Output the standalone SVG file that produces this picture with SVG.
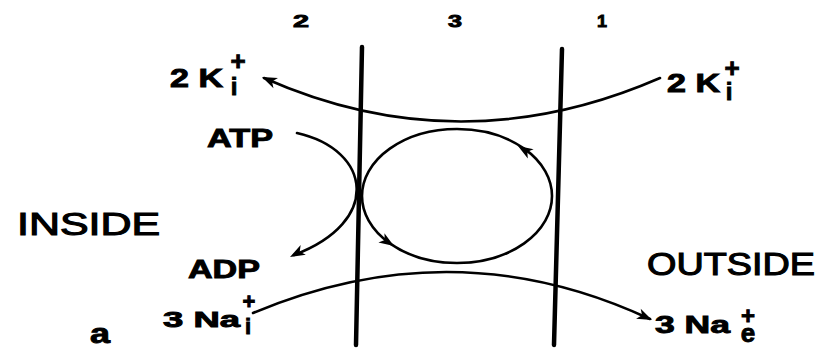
<svg xmlns="http://www.w3.org/2000/svg" xmlns:xlink="http://www.w3.org/1999/xlink" width="820" height="348" viewBox="0 0 820 348">
<style>
.t{font-family:"Liberation Sans",Arial,sans-serif;font-weight:bold;fill:#000;stroke:#000;stroke-width:0.9}
.h{font-family:"Liberation Sans",Arial,sans-serif;font-weight:normal;fill:#000;stroke:#000;stroke-width:1.1}
.m{stroke:#000;stroke-width:4.5;stroke-linecap:round;fill:none}
.c{stroke:#000;stroke-width:2.6;fill:none;stroke-linecap:round}
</style>
<defs>
<path id="ah" d="M0 0 L-15 -5.5 L-11 0 L-15 5.5 Z" fill="#000"/>
</defs>
<rect width="820" height="348" fill="#fff"/>

<g id="membrane-left"><line class="m" x1="362" y1="47" x2="356" y2="345"/></g>
<g id="membrane-right"><line class="m" x1="562" y1="49" x2="554" y2="345"/></g>

<g id="region-labels">
<text class="t" x="293" y="27" font-size="17" textLength="16" lengthAdjust="spacingAndGlyphs">2</text>
<text class="t" x="448" y="27" font-size="17" textLength="14" lengthAdjust="spacingAndGlyphs">3</text>
<text class="t" x="597" y="27" font-size="17" textLength="10" lengthAdjust="spacingAndGlyphs">1</text>
</g>

<g id="k-in">
<text class="t" x="170" y="87" font-size="25" textLength="53" lengthAdjust="spacingAndGlyphs">2 K</text>
<text class="t" x="238" y="70" font-size="26" text-anchor="middle">+</text>
<text class="t" x="234" y="95" font-size="24" text-anchor="middle">i</text>
</g>
<g id="k-out">
<text class="t" x="667" y="92" font-size="25" textLength="53" lengthAdjust="spacingAndGlyphs">2 K</text>
<text class="t" x="732" y="77" font-size="26" text-anchor="middle">+</text>
<text class="t" x="729" y="100" font-size="24" text-anchor="middle">i</text>
</g>
<g id="atp"><text class="t" x="207" y="147" font-size="26" textLength="66" lengthAdjust="spacingAndGlyphs">ATP</text></g>
<g id="adp"><text class="t" x="188" y="278" font-size="25" textLength="72" lengthAdjust="spacingAndGlyphs">ADP</text></g>
<g id="inside"><text class="h" x="17" y="235" font-size="31" textLength="143" lengthAdjust="spacingAndGlyphs">INSIDE</text></g>
<g id="outside"><text class="h" x="647" y="275" font-size="31" textLength="168" lengthAdjust="spacingAndGlyphs">OUTSIDE</text></g>
<g id="na-in">
<text class="t" x="163" y="327" font-size="22" textLength="77" lengthAdjust="spacingAndGlyphs">3 Na</text>
<text class="t" x="249" y="309" font-size="22" text-anchor="middle">+</text>
<text class="t" x="248" y="334" font-size="22" text-anchor="middle">i</text>
</g>
<g id="na-out">
<text class="t" x="655" y="333" font-size="24" textLength="75" lengthAdjust="spacingAndGlyphs">3 Na</text>
<text class="t" x="748" y="324" font-size="24" text-anchor="middle">+</text>
<text class="t" x="748" y="342" font-size="26" text-anchor="middle">e</text>
</g>
<g id="fig-label"><text class="t" x="90" y="343" font-size="28" textLength="20" lengthAdjust="spacingAndGlyphs">a</text></g>

<g id="connectors">
<path class="c" d="M660 78 Q460 165 264 78"/>
<use xlink:href="#ah" transform="translate(262,77) rotate(204)"/>
<path class="c" d="M253 313 Q455 228 650 319"/>
<use xlink:href="#ah" transform="translate(652,320) rotate(25)"/>
<path class="c" d="M297 133 C372 150 382 222 294 255"/>
<use xlink:href="#ah" transform="translate(290,257) rotate(152)"/>
<ellipse class="c" cx="457" cy="196" rx="95" ry="67"/>
<use xlink:href="#ah" transform="translate(518,146) rotate(212)"/>
<use xlink:href="#ah" transform="translate(394,246) rotate(33)"/>
</g>
</svg>
